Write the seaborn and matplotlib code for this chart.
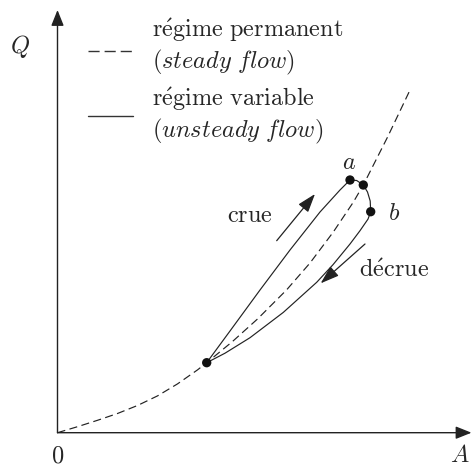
import matplotlib
matplotlib.use("Agg")
import matplotlib.pyplot as plt
import seaborn as sns
import pandas as pd

# ---- data (A = wetted area, Q = discharge, arbitrary units) ----
steady_A = [0.0, 0.2, 0.4, 0.6, 0.8, 1.0, 1.2, 1.4, 1.492, 1.75, 2.0, 2.29, 2.525, 2.758, 2.958, 3.058, 3.3, 3.53]
steady_Q = [0.0, 0.060, 0.124, 0.192, 0.272, 0.368, 0.488, 0.628, 0.700, 0.912, 1.137, 1.427, 1.697, 2.007, 2.305, 2.477, 2.955, 3.437]

rise_A = [1.492, 1.725, 2.025, 2.325, 2.625, 2.825, 2.925]
rise_Q = [0.700, 1.017, 1.427, 1.827, 2.207, 2.427, 2.527]

fall_A = [2.925, 2.992, 3.058, 3.100, 3.127, 3.132, 3.105, 3.025, 2.925, 2.755, 2.592, 2.258, 1.925, 1.675, 1.492]
fall_Q = [2.527, 2.522, 2.477, 2.407, 2.317, 2.210, 2.136, 2.020, 1.887, 1.680, 1.504, 1.203, 0.950, 0.795, 0.700]

points_A = [1.492, 2.925, 3.058, 3.132]
points_Q = [0.700, 2.527, 2.477, 2.210]

legend_labels = [r"$\mathrm{r\acute{e}gime\ permanent}$", r"$(\mathit{steady\ flow})$",
                 r"$\mathrm{r\acute{e}gime\ variable}$", r"$(\mathit{unsteady\ flow})$"]

sns.set_style("white")
plt.rcParams["mathtext.fontset"] = "cm"
plt.rcParams["lines.scale_dashes"] = False

fig = plt.figure(figsize=(4.72, 4.66), dpi=100)
ax = fig.add_axes([0, 0, 1, 1])
ax.set_xlim(-0.575, 4.145)
ax.set_ylim(-0.333, 4.327)
ax.axis("off")

lw = 0.85
steady = pd.DataFrame({"A": steady_A, "Q": steady_Q})
rise = pd.DataFrame({"A": rise_A, "Q": rise_Q})
fall = pd.DataFrame({"A": fall_A, "Q": fall_Q})

sns.lineplot(data=steady, x="A", y="Q", sort=False, estimator=None, ax=ax,
             color="#222222", lw=lw, dashes=False, linestyle=(0, (5.8, 3.2)))
sns.lineplot(data=rise, x="A", y="Q", sort=False, estimator=None, ax=ax,
             color="#222222", lw=lw)
sns.lineplot(data=fall, x="A", y="Q", sort=False, estimator=None, ax=ax,
             color="#222222", lw=lw)
sns.scatterplot(x=points_A, y=points_Q, ax=ax, s=45, color="#111111",
                edgecolor="none", zorder=5)

# axes with arrows
axis_arrow = dict(arrowstyle="-|>,head_length=0.8,head_width=0.32", lw=1.0,
                  color="#222222", mutation_scale=12, shrinkA=0, shrinkB=0)
ax.annotate("", xy=(4.14, 0), xytext=(0, 0), arrowprops=axis_arrow)
ax.annotate("", xy=(0, 4.227), xytext=(0, 0), arrowprops=axis_arrow)

fs = 17.5
ax.text(-0.375, 3.86, r"$Q$", fontsize=fs, ha="center", va="center")
ax.text(0.0, -0.225, r"$0$", fontsize=fs, ha="center", va="center")
ax.text(4.02, -0.225, r"$A$", fontsize=fs, ha="center", va="center")
ax.text(2.918, 2.71, r"$a$", fontsize=fs, ha="center", va="center")
ax.text(3.365, 2.194, r"$b$", fontsize=fs, ha="center", va="center")

ax.text(1.692, 2.11, r"$\mathrm{crue}$", fontsize=fs, ha="left", va="baseline")
ax.text(3.018, 1.554, r"$\mathrm{d\acute{e}crue}$", fontsize=fs, ha="left", va="baseline")

small_arrow = dict(arrowstyle="-|>,head_length=0.95,head_width=0.32", lw=0.9,
                   color="#222222", mutation_scale=12, shrinkA=0, shrinkB=0)
ax.annotate("", xy=(2.575, 2.387), xytext=(2.192, 1.92), arrowprops=small_arrow)
ax.annotate("", xy=(2.632, 1.494), xytext=(3.075, 1.887), arrowprops=small_arrow)

# legend (manual)
ax.plot([0.305, 0.755], [3.82, 3.82], color="#333333", lw=1.0, linestyle=(0, (8.0, 3.6)))
ax.plot([0.305, 0.755], [3.167, 3.167], color="#333333", lw=1.0)
for lab, yb in zip(legend_labels, [3.96, 3.644, 3.267, 2.951]):
    ax.text(0.945, yb, lab, fontsize=fs, ha="left", va="baseline")

fig.savefig("out.png", dpi=100)
